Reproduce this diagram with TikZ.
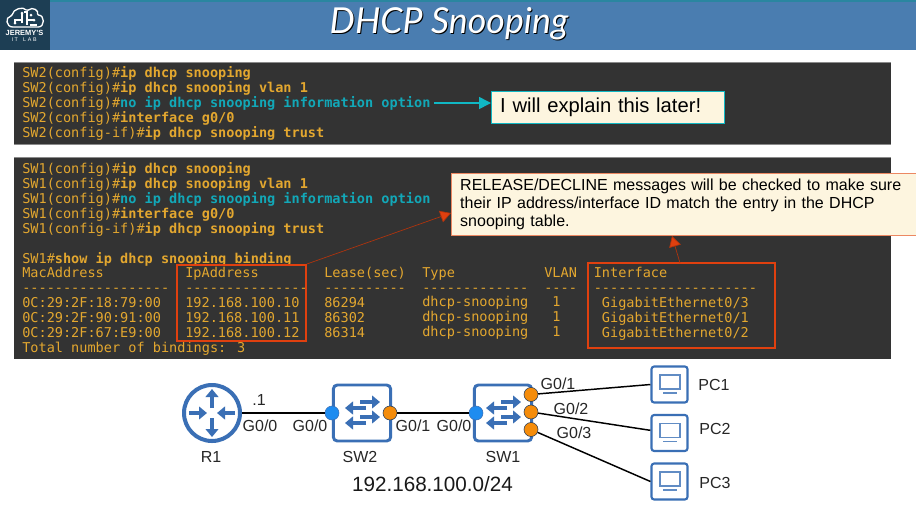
\documentclass[tikz,border=0pt]{standalone}
\usepackage{fontspec}
\usepackage{xcolor}
\usetikzlibrary{arrows.meta}
\setmainfont{Liberation Sans}
\newfontfamily\termfont{DejaVu Sans Mono}
\newfontfamily\titlefont{Lato}
\definecolor{barblue}{HTML}{4A7DB0}
\definecolor{bartop}{HTML}{2A86A0}
\definecolor{logoblue}{HTML}{1D3E54}
\definecolor{termgray}{HTML}{333333}
\definecolor{termline}{HTML}{8A8A8A}
\definecolor{ambertext}{HTML}{E3A72F}
\definecolor{cyantext}{HTML}{12A8B8}
\definecolor{cyanline}{HTML}{10B8C4}
\definecolor{redline}{HTML}{E0400F}
\definecolor{notefill}{HTML}{FDF5DF}
\definecolor{netblue}{HTML}{3A6FB5}
\definecolor{portblue}{HTML}{1E8CF0}
\definecolor{portorange}{HTML}{F58C0A}
\newcommand{\cyan}[1]{\textcolor{cyantext}{\textbf{#1}}}
\begin{document}
\begin{tikzpicture}[
	x=0.75pt, y=-0.75pt,
	termedge/.style={draw=termline, line width=0.6pt},
	termtext/.style={anchor=north west, inner sep=0pt, align=left, text=ambertext,
		font=\termfont\fontsize{10.17}{11.18}\selectfont},
	redbox/.style={draw=redline, line width=1.5pt},
	note/.style={anchor=north west, fill=notefill, inner sep=0pt, align=left},
	netlink/.style={draw=black, line width=1.1pt},
	netlabel/.style={inner sep=0pt, font=\fontsize{12}{14}\selectfont, text=black!85},
	portb/.style={circle, draw=netblue, fill=portblue, line width=0.4pt, minimum size=10.5pt, inner sep=0pt},
	porto/.style={circle, draw=netblue!50!black, fill=portorange, line width=0.4pt, minimum size=10.5pt, inner sep=0pt},
	swbox/.style={rectangle, rounded corners=3pt, draw=netblue, fill=white, line width=2.2pt, minimum width=43pt, minimum height=42pt},
	pcbox/.style={rectangle, rounded corners=2pt, draw=netblue, fill=white, line width=1.6pt, minimum width=27pt, minimum height=27pt},
	icon/.style={-{Triangle[length=6pt, width=9.5pt]}, draw=netblue, line width=2.5pt},
	pcicon/.style={draw=netblue!80!white, line width=0.8pt}
	]
	\useasboundingbox (0,0) rectangle (916,515);

	%Title bar
	\fill[white] (0,0) rectangle (916,515);
	\fill[barblue] (0,0) rectangle (916,50);
	\fill[bartop] (0,0) rectangle (916,1.5);
	\fill[logoblue] (0,0) rectangle (50,50);
	\node[text=black, inner sep=0pt, font=\titlefont\itshape\fontsize{26.8}{30}\selectfont] (titleshadow) at (450,25) {DHCP Snooping};
	\node[text=white, inner sep=0pt, font=\titlefont\itshape\fontsize{26.8}{30}\selectfont] (title) at (449,24) {DHCP Snooping};

	%Logo
	\draw[white, line width=1pt, rounded corners=1pt]
		(14,27) .. controls (6,27) and (5,17) .. (12,16)
		.. controls (13,9) and (23,6) .. (27,11)
		.. controls (33,6) and (39,11) .. (37,15)
		.. controls (45,15) and (45,27) .. (37,27) -- cycle;
	\draw[white, line width=0.8pt] (15,23) -- (15,20) -- (21,20) (22,23) -- (22,14) (27,25) -- (27,12) -- (24,12) (27,20) -- (34,20) (30,25) -- (37,25);
	\fill[white] (15,23) circle (1.5) (22,13) circle (1.5) (34,20) circle (1.5) (31,15) circle (1.5);
	\node[text=white, inner sep=0pt, font=\bfseries\fontsize{5.6}{6}\selectfont] (logo1) at (24.5,33) {JEREMY'S};
	\node[text=white, inner sep=0pt, font=\fontsize{4}{5}\selectfont] (logo2) at (24.5,39.5) {I\,T\hspace{4pt}L\,\,A\,\,B};

	%Terminal of SW2
	\fill[termgray] (14,62) rectangle (891,144);
	\draw[termedge] (14,62) -- (891,62);
	\draw[termedge] (14,144) -- (891,144);
	\node[termtext] (sw2cli) at (22,66.5) {SW2(config)\#\textbf{ip dhcp snooping}\\
		SW2(config)\#\textbf{ip dhcp snooping vlan 1}\\
		SW2(config)\#\cyan{no ip dhcp snooping information option}\\
		SW2(config)\#\textbf{interface g0/0}\\
		SW2(config-if)\#\textbf{ip dhcp snooping trust}};

	%Terminal of SW1
	\fill[termgray] (14,157) rectangle (891,359);
	\draw[termedge] (14,157) -- (891,157);
	\node[termtext] (sw1cli) at (22,162.5) {SW1(config)\#\textbf{ip dhcp snooping}\\
		SW1(config)\#\textbf{ip dhcp snooping vlan 1}\\
		SW1(config)\#\cyan{no ip dhcp snooping information option}\\
		SW1(config)\#\textbf{interface g0/0}\\
		SW1(config-if)\#\textbf{ip dhcp snooping trust}\\
		~\\
		SW1\#\textbf{show ip dhcp snooping binding}};

	%Binding table, column by column
	\node[termtext] (mac) at (22,267) {MacAddress\\------------------\\0C:29:2F:18:79:00\\0C:29:2F:90:91:00\\0C:29:2F:67:E9:00\\Total number of bindings: 3};
	\node[termtext] (ip) at (185,267) {IpAddress\\---------------\\192.168.100.10\\192.168.100.11\\192.168.100.12};
	\node[termtext] (lease) at (324,267) {Lease(sec)\\----------\\86294\\86302\\86314};
	\node[termtext] (type) at (422,267) {Type\\-------------\\dhcp-snooping\\dhcp-snooping\\dhcp-snooping};
	\node[termtext] (vlan) at (544,267) {VLAN\\----\\~1\\~1\\~1};
	\node[termtext] (intf) at (593.5,267) {Interface\\--------------------\\~GigabitEthernet0/3\\~GigabitEthernet0/1\\~GigabitEthernet0/2};

	%Red boxes
	\node[redbox, inner sep=0pt, minimum width=96.5pt, minimum height=57pt] (ipbox) at (241.5,303) {};
	\node[redbox, inner sep=0pt, minimum width=140pt, minimum height=63.5pt] (intfbox) at (681.5,305.5) {};

	%Callouts
	\node[note, draw=cyanline, line width=0.8pt, minimum height=24pt, text width=162pt, inner xsep=6.5pt, font=\fontsize{15.15}{18}\selectfont] (later) at (491,91) {I will explain this later!};
	\node[note, draw=redline!60!notefill, line width=0.8pt, minimum height=46.5pt, text width=350pt, inner xsep=6.5pt, font=\fontsize{12}{13.5}\selectfont] (check) at (451,173) {RELEASE/DECLINE messages will be checked to make sure\\
		their IP address/interface ID match the entry in the DHCP\\
		snooping table.};
	\coordinate (laterfrom) at (434,103);
	\draw[cyanline, line width=1.2pt, -{Triangle[length=9pt, width=9pt]}] (laterfrom) -- (later.west |- laterfrom);
	\draw[redline!80!black, line width=0.5pt, -{Triangle[length=8pt, width=9pt, fill=redline]}] (ipbox.north east) -- (check.west |- 0,213);
	\coordinate (intftop) at (680,263);
	\draw[redline!80!black, line width=0.5pt, -{Triangle[length=8pt, width=9pt, fill=redline]}] (intftop) -- (672,236);

	%Network devices
	\node[circle, draw=netblue, fill=white, line width=3pt, minimum size=42pt, inner sep=0pt] (r1) at (212,413) {};
	\node[swbox] (sw2) at (362,413) {};
	\node[swbox] (sw1) at (503,413) {};
	\node[pcbox] (pc1) at (669.5,384.5) {};
	\node[pcbox] (pc2) at (669.5,433) {};
	\node[pcbox] (pc3) at (669.5,481.5) {};

	%Ports
	\node[portb] (sw2g0) at (332,413) {};
	\node[porto] (sw2g1) at (390,413) {};
	\node[portb] (sw1g0) at (476,413) {};
	\node[porto] (sw1g1) at (531,394.5) {};
	\node[porto] (sw1g2) at (531,412) {};
	\node[porto] (sw1g3) at (531,429.5) {};

	%Links
	\draw[netlink] (r1) -- (sw2g0);
	\draw[netlink] (sw2g1) -- (sw1g0);
	\draw[netlink] (sw1g1) -- (pc1.west);
	\draw[netlink] (sw1g2) -- ([yshift=2pt]pc2.west);
	\draw[netlink] (sw1g3) -- (pc3.west);

	%Router arrows
	\draw[icon] (212,408) -- (212,389);
	\draw[icon] (212,418) -- (212,437);
	\draw[icon] (189,413) -- (207,413);
	\draw[icon] (235,413) -- (217,413);

	%Switch arrows
	\foreach \cx in {362,503}{
		\draw[icon] (\cx-2,402) -- (\cx+18,402);
		\draw[icon] (\cx+4,408) -- (\cx-17,408);
		\draw[icon] (\cx-2,417) -- (\cx+18,417);
		\draw[icon] (\cx+4,423) -- (\cx-17,423);
	}

	%PC screens
	\foreach \cx/\cy in {670/384.5, 670/433, 670/481.5}{
		\draw[pcicon] (\cx-10,\cy-9.5) rectangle (\cx+10,\cy+4.5);
		\draw[pcicon] (\cx-7,\cy+8.5) -- (\cx+7,\cy+8.5);
	}

	%Labels
	\node[netlabel] (dot1) at (259,400) {.1};
	\node[netlabel] (r1g0) at (260,426) {G0/0};
	\node[netlabel] (lsw2g0) at (310,426) {G0/0};
	\node[netlabel] (lsw2g1) at (413,426) {G0/1};
	\node[netlabel] (lsw1g0) at (454,426) {G0/0};
	\node[netlabel] (lsw1g1) at (558,384) {G0/1};
	\node[netlabel] (lsw1g2) at (571,409) {G0/2};
	\node[netlabel] (lsw1g3) at (574,433) {G0/3};
	\node[netlabel] (lr1) at (211,457) {R1};
	\node[netlabel] (lsw2) at (360,457) {SW2};
	\node[netlabel] (lsw1) at (503,457) {SW1};
	\node[netlabel] (lpc1) at (714,385) {PC1};
	\node[netlabel] (lpc2) at (715,429) {PC2};
	\node[netlabel] (lpc3) at (715,483) {PC3};
	\node[inner sep=0pt, font=\fontsize{15.5}{18}\selectfont, text=black!90] (subnet) at (432.5,484) {192.168.100.0/24};
\end{tikzpicture}
\end{document}
